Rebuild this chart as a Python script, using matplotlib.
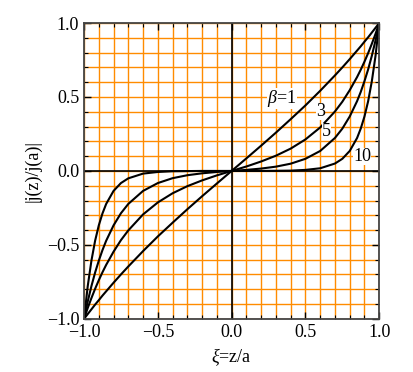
import numpy as np
import matplotlib.pyplot as plt
from matplotlib.ticker import MultipleLocator

plt.rcParams['font.family'] = ['Liberation Serif', 'DejaVu Serif']
plt.rcParams['mathtext.fontset'] = 'custom'
plt.rcParams['mathtext.it'] = 'Liberation Serif:italic'
plt.rcParams['mathtext.rm'] = 'Liberation Serif'

# xi = z/a sample positions
xi = [-1.0, -0.975, -0.95, -0.925, -0.9, -0.875, -0.85, -0.8, -0.75, -0.7,
      -0.6, -0.5, -0.4, -0.3, -0.2, -0.1, 0.0,
      0.1, 0.2, 0.3, 0.4, 0.5, 0.6, 0.7, 0.75, 0.8,
      0.85, 0.875, 0.9, 0.925, 0.95, 0.975, 1.0]

# |j(z)/j(a)| for each beta
j_b1 = [-1.0, -0.968, -0.936, -0.904, -0.874, -0.843, -0.814, -0.756, -0.700, -0.646,
        -0.542, -0.443, -0.350, -0.259, -0.171, -0.085, 0.0,
        0.085, 0.171, 0.259, 0.350, 0.443, 0.542, 0.646, 0.700, 0.756,
        0.814, 0.843, 0.874, 0.904, 0.936, 0.968, 1.0]
j_b3 = [-1.0, -0.927, -0.860, -0.797, -0.739, -0.685, -0.635, -0.546, -0.468, -0.402,
        -0.294, -0.213, -0.151, -0.103, -0.064, -0.030, 0.0,
        0.030, 0.064, 0.103, 0.151, 0.213, 0.294, 0.402, 0.468, 0.546,
        0.635, 0.685, 0.739, 0.797, 0.860, 0.927, 1.0]
j_b5 = [-1.0, -0.883, -0.779, -0.687, -0.607, -0.535, -0.472, -0.368, -0.286, -0.223,
        -0.135, -0.082, -0.049, -0.029, -0.016, -0.007, 0.0,
        0.007, 0.016, 0.029, 0.049, 0.082, 0.135, 0.223, 0.286, 0.368,
        0.472, 0.535, 0.607, 0.687, 0.779, 0.883, 1.0]
j_b10 = [-1.0, -0.779, -0.607, -0.472, -0.368, -0.287, -0.223, -0.135, -0.082, -0.050,
         -0.018, -0.007, -0.002, -0.001, 0.0, 0.0, 0.0,
         0.0, 0.0, 0.001, 0.002, 0.007, 0.018, 0.050, 0.082, 0.135,
         0.223, 0.287, 0.368, 0.472, 0.607, 0.779, 1.0]

curves = [j_b1, j_b3, j_b5, j_b10]
labels = [r'$\beta$=1', '3', '5', '10']
label_pos = [(0.34, 0.49), (0.60, 0.40), (0.645, 0.265), (0.885, 0.10)]

fig = plt.figure(figsize=(4.14, 3.72), dpi=100)
ax = fig.add_axes([0.203, 0.143, 0.713, 0.795])

ax.set_xlim(-1, 1)
ax.set_ylim(-1, 1)

# orange grid every 0.1
ax.xaxis.set_major_locator(MultipleLocator(0.5))
ax.yaxis.set_major_locator(MultipleLocator(0.5))
ax.xaxis.set_minor_locator(MultipleLocator(0.1))
ax.yaxis.set_minor_locator(MultipleLocator(0.1))
ax.grid(True, which='both', color='#ff8c00', linewidth=1.0)
ax.set_axisbelow(True)

ax.axhline(0, color='black', linewidth=1.2)
ax.axvline(0, color='black', linewidth=1.2)

for c in curves:
    ax.plot(xi, c, color='black', linewidth=1.5)

for lab, (x, y) in zip(labels, label_pos):
    ax.text(x, y, lab, fontsize=13, ha='center', va='center',
            bbox=dict(facecolor='white', edgecolor='none', pad=0.0))

ax.tick_params(which='both', direction='in', top=True, right=True, labelsize=13)
ax.tick_params(which='major', length=5, width=1.0)
ax.tick_params(which='minor', length=3, width=0.8)
for s in ax.spines.values():
    s.set_color('#444444')
    s.set_linewidth(1.3)

ax.set_xlabel(r'$\xi$=z/a', fontsize=13)
ax.set_ylabel('|j(z)/j(a)|', fontsize=13)

fig.savefig('out.png', dpi=100)
